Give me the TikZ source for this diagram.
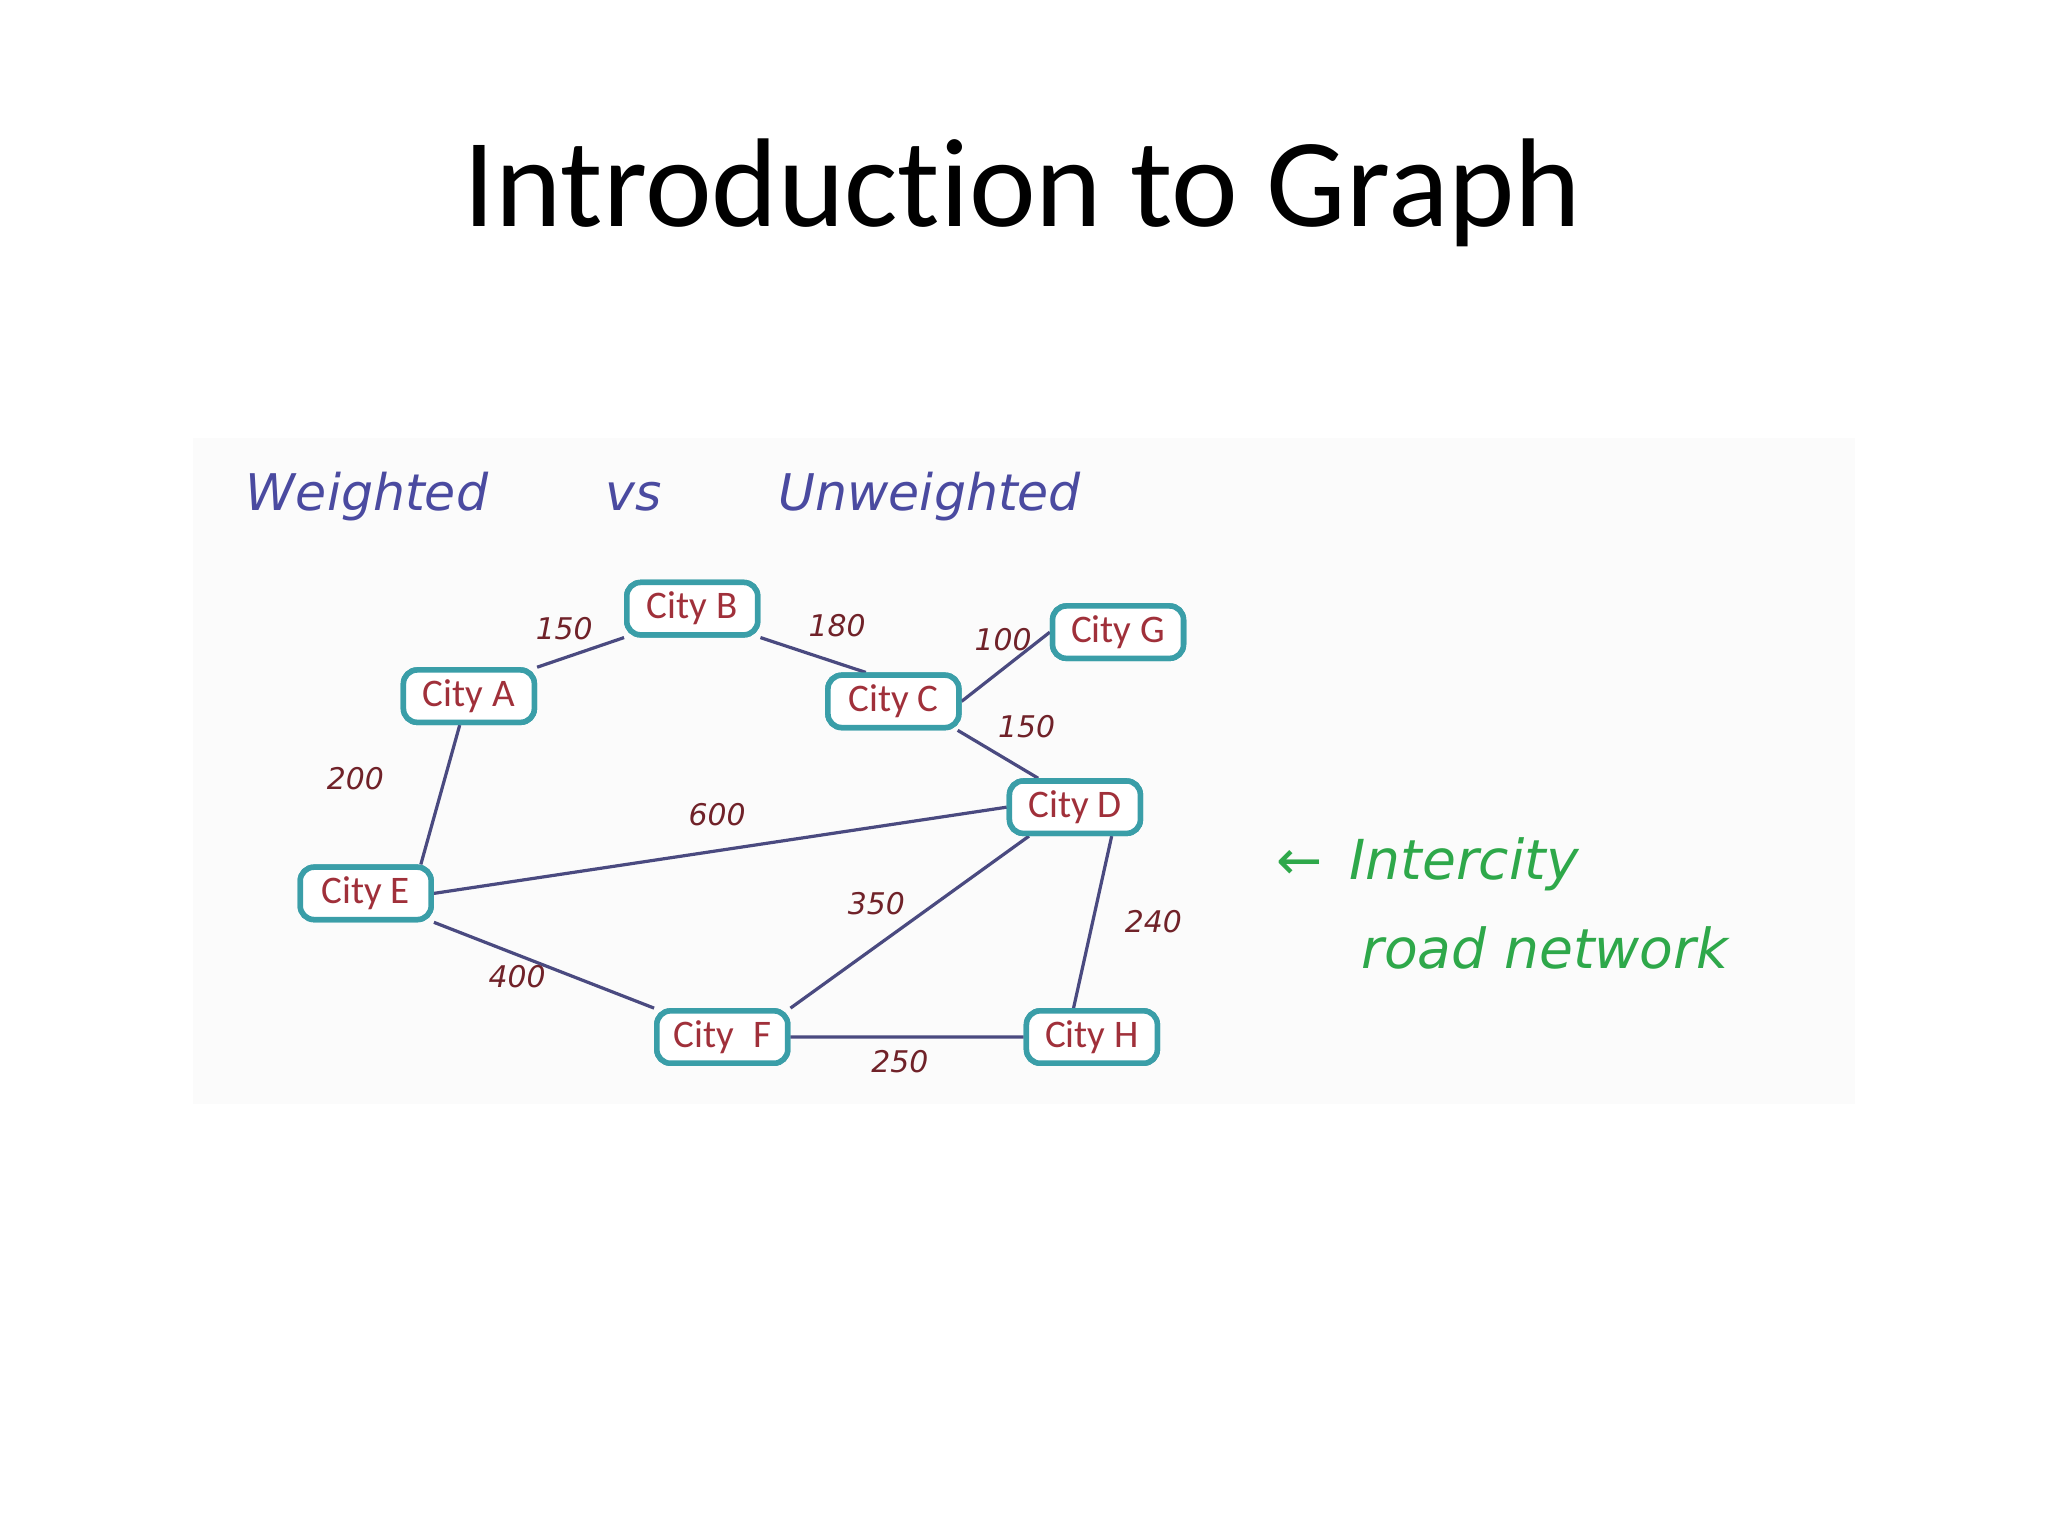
\documentclass[tikz,border=0pt]{standalone}
\usepackage{fontspec}
\setmainfont{Carlito}[Ligatures=NoCommon]
\newfontfamily\hand{DejaVu Sans}
\definecolor{edgec}{HTML}{4A4A80}
\definecolor{boxc}{HTML}{3A9EA8}
\definecolor{txtc}{HTML}{A0303A}
\definecolor{blu}{HTML}{4A4AA0}
\definecolor{grn}{HTML}{2EA84A}
\begin{document}
\begin{tikzpicture}[x=0.01cm,y=-0.01cm,
 city/.style={draw=boxc,line width=1.2pt,rounded corners=3pt,minimum width=28.5pt,minimum height=11.4pt,inner sep=1pt,text=txtc,font=\fontsize{8.5}{9}\selectfont,fill=white},
 road/.style={draw=edgec,line width=0.7pt},
 wt/.style={font=\hand\itshape\fontsize{6.5}{7}\selectfont,text=txtc!70!black}]
\useasboundingbox (0,0) rectangle (1568,1176);
\fill[black!1.5] (148,335) rectangle (1420,845);
\node[font=\fontsize{27.5}{32}\selectfont] (t) at (783,148) {Introduction to Graph};
\node[font=\hand\itshape\fontsize{11}{13}\selectfont,text=blu] (w) at (508,380) {Weighted \qquad vs \qquad Unweighted};
\node (b) [city] at (530,466) {City B};
\node (a) [city] at (359,533) {City A};
\node (c) [city] at (684,537) {City C};
\node (g) [city] at (856,484) {City G};
\node (d) [city] at (823,618) {City D};
\node (e) [city] at (280,684) {City E};
\node (f) [city] at (553,794) {City\enspace F};
\node (h) [city] at (836,794) {City H};
\draw[road] (a.north east)--(b.south west) (b.south east)--([xshift=-6pt]c.north) (c.east)--(g.west)
 ([xshift=14pt]c.south)--([xshift=-8pt]d.north) ([xshift=-2pt]a.south)--([xshift=12pt]e.north) (e.east)--(d.west) (e.south east)--(f.north west) (f.north east)--([xshift=-10pt]d.south) ([xshift=8pt]d.south)--([xshift=-4pt]h.north) (f.east)--(h.west);
\node[city] at (b) {City B};\node[city] at (a) {City A};\node[city] at (c) {City C};\node[city] at (g) {City G};
\node[city] at (d) {City D};\node[city] at (e) {City E};\node[city] at (f) {City\enspace F};\node[city] at (h) {City H};
\node[wt] (l1) at (432,481) {150};
\node[wt] (l2) at (641,479) {180};
\node[wt] (l3) at (768,490) {100};
\node[wt] (l4) at (786,556) {150};
\node[wt] (l5) at (272,596) {200};
\node[wt] (l6) at (549,624) {600};
\node[wt] (l7) at (671,692) {350};
\node[wt] (l8) at (883,706) {240};
\node[wt] (l9) at (396,748) {400};
\node[wt] (l10) at (689,813) {250};
\node[font=\hand\itshape\fontsize{12}{14}\selectfont,text=grn,anchor=west] (ic) at (965,662) {←\, Intercity};
\node[font=\hand\itshape\fontsize{12}{14}\selectfont,text=grn,anchor=west] (rn) at (1030,726) {road network};
\end{tikzpicture}
\end{document}
